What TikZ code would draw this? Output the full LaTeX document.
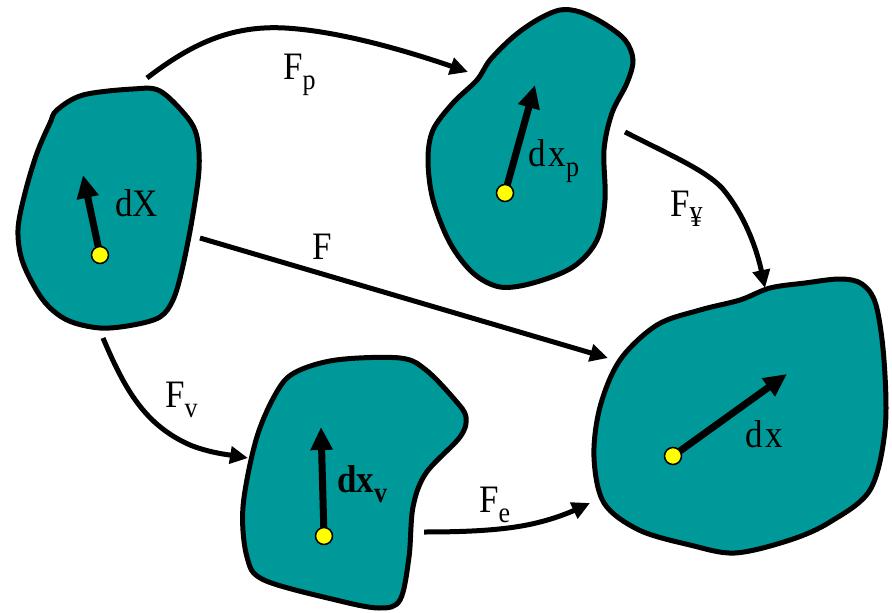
\documentclass[tikz,border=0pt]{standalone}
\usepackage{fontspec}
\setmainfont{Liberation Serif}[FakeStretch=0.9]
\usetikzlibrary{arrows.meta}
\definecolor{blobteal}{RGB}{0,153,153}
\definecolor{dotyellow}{RGB}{255,255,0}
\newcommand\sbs[1]{\raisebox{-10bp}{\fontsize{29}{31}\selectfont #1}}
\begin{document}
\begin{tikzpicture}[x=1bp,y=-1bp,
  blob/.style={fill=blobteal,draw=black,line width=5bp,line join=round},
  vec/.style={line width=7bp,-{Triangle[length=23bp,width=21bp]}},
  conn/.style={line width=5bp,-{Triangle[length=18bp,width=17bp]}},
  dot/.style={circle,fill=dotyellow,draw=black,line width=1.5bp,minimum size=17bp,inner sep=0pt},
  lbl/.style={font=\fontsize{39}{42}\selectfont,inner sep=0pt,anchor=base west}]
\useasboundingbox (0,0) rectangle (892,613);

% blobs
\draw[blob] plot[smooth cycle,tension=0.55] coordinates {(57,110) (83,95) (133,89) (160,91) (187,117) (197,137) (199,170) (192,220) (182,270) (173,300) (160,317) (133,325) (100,328) (67,320) (43,300) (23,263) (18,230) (25,193) (37,153) (50,123)};
\draw[blob] plot[smooth cycle,tension=0.55] coordinates {(580,12) (603,23) (625,40) (633,60) (627,83) (612,113) (604,150) (605,200) (597,240) (573,267) (533,283) (500,287) (473,273) (450,243) (433,200) (428,160) (433,130) (453,103) (477,80) (490,60) (513,37) (537,20) (560,10)};
\draw[blob] plot[smooth cycle,tension=0.55] coordinates {(657,325) (700,310) (740,300) (770,288) (805,283) (840,279) (862,284) (876,305) (884,360) (885,430) (870,490) (830,522) (790,540) (735,553) (690,545) (639,530) (604,503) (594,457) (600,407) (620,360)};
\draw[blob] plot[smooth cycle,tension=0.55] coordinates {(336,360) (400,358) (426,370) (455,400) (466,417) (460,437) (426,473) (413,507) (409,557) (400,600) (379,608) (336,600) (264,580) (247,557) (243,507) (256,440) (275,395) (294,373)};

% vectors inside blobs
\coordinate (c1) at (100,255); \coordinate (t1) at (83,175);
\coordinate (c2) at (505,193); \coordinate (t2) at (535,85);
\coordinate (c3) at (673,456); \coordinate (t3) at (787,374);
\coordinate (c4) at (324,536); \coordinate (t4) at (321,427);
\draw[vec] (c1) -- (t1);
\draw[vec] (c2) -- (t2);
\draw[vec] (c3) -- (t3);
\draw[vec] (c4) -- (t4);
\node[dot] (d1) at (c1) {};
\node[dot] (d2) at (c2) {};
\node[dot] (d3) at (c3) {};
\node[dot] (d4) at (c4) {};

% vector labels
\node[lbl] (ldX) at (115,217) {dX};
\node[lbl] (ldxp) at (528,167) {d\kern3bp x\sbs{p}};
\node[lbl] (ldx) at (745,447) {d\kern3bp x};
\node[lbl] (ldxv) at (337,492) {\bfseries dx\sbs{\bfseries v}};

% connector end points
\coordinate (ps) at (147,78);  \coordinate (pe) at (468,72);
\coordinate (ys) at (625,132); \coordinate (ye) at (765,288);
\coordinate (fs) at (200,238); \coordinate (fe) at (608,358);
\coordinate (vs) at (103,338); \coordinate (ve) at (248,458);
\coordinate (es) at (424,532); \coordinate (ee) at (590,503);

\draw[conn] (ps) .. controls (190,45) and (230,25) .. (285,28) .. controls (340,31) and (410,52) .. (pe);
\draw[conn] (ys) .. controls (670,155) and (705,170) .. (722,188) .. controls (745,215) and (757,250) .. (ye);
\draw[conn] (fs) -- (fe);
\draw[conn] (vs) .. controls (125,390) and (145,425) .. (190,445) .. controls (210,453) and (230,455) .. (ve);
\draw[conn] (es) .. controls (470,532) and (510,530) .. (540,522) .. controls (560,517) and (575,510) .. (ee);

% connector labels
\node[lbl] (lp) at (283,80) {F\sbs{p}};
\node[lbl] (ly) at (670,217) {F\sbs{¥}};
\node[lbl] (lf) at (312,260) {F};
\node[lbl] (lv) at (165,407) {F\sbs{v}};
\node[lbl] (le) at (479,512) {F\sbs{e}};
\end{tikzpicture}
\end{document}
